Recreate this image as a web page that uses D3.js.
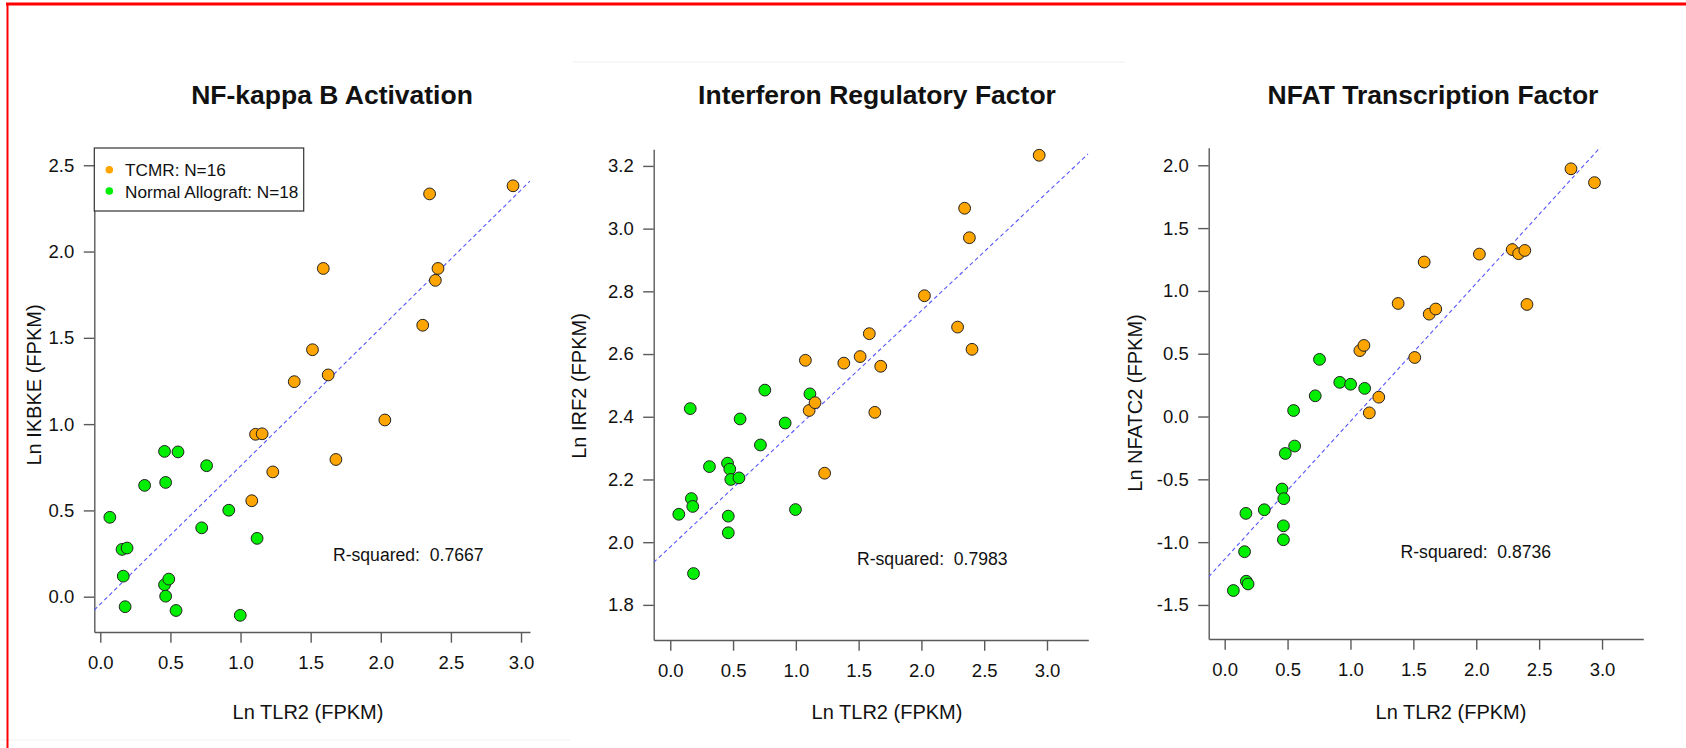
<!DOCTYPE html>
<html><head><meta charset="utf-8">
<script src="https://cdn.jsdelivr.net/npm/d3@7"></script>
<style>
body{margin:0;background:#fff}
svg{display:block}
text{font-family:"Liberation Sans",Arial,Helvetica,sans-serif;fill:#111}
</style>
</head><body>
<svg id="chart" width="1686" height="748"></svg>
<script>
// ---------------- data ----------------
const panelTitles = ["NF-kappa B Activation", "Interferon Regulatory Factor", "NFAT Transcription Factor"];
const yLabels = ["Ln IKBKE (FPKM)", "Ln IRF2 (FPKM)", "Ln NFATC2 (FPKM)"];
const xLabel = "Ln TLR2 (FPKM)";
const legendLabels = ["TCMR: N=16", "Normal Allograft: N=18"];
const rSquared = ["0.7667", "0.7983", "0.8736"];
const xTicks = [0, 0.5, 1.0, 1.5, 2.0, 2.5, 3.0];
const yTicks1 = [0, 0.5, 1.0, 1.5, 2.0, 2.5];
const yTicks2 = [1.8, 2.0, 2.2, 2.4, 2.6, 2.8, 3.0, 3.2];
const yTicks3 = [-1.5, -1.0, -0.5, 0, 0.5, 1.0, 1.5, 2.0];

// Panel 1: IKBKE
const ikbkeTcmrX = [2.943, 2.348, 1.590, 2.408, 2.389, 2.299, 1.513, 1.383, 1.625, 2.029, 1.107, 1.154, 1.680, 1.230, 1.080];
const ikbkeTcmrY = [2.381, 2.334, 1.902, 1.902, 1.833, 1.573, 1.431, 1.246, 1.285, 1.024, 0.941, 0.944, 0.795, 0.723, 0.556];
const ikbkeNormX = [0.068, 0.155, 0.191, 0.164, 0.177, 0.316, 0.458, 0.554, 0.466, 0.758, 0.916, 0.723, 1.118, 0.458, 0.488, 0.466, 0.540, 0.998];
const ikbkeNormY = [0.460, 0.274, 0.282, 0.119, -0.058, 0.645, 0.842, 0.839, 0.662, 0.759, 0.501, 0.399, 0.338, 0.069, 0.102, 0.003, -0.080, -0.108];
// Panel 2: IRF2
const irf2TcmrX = [2.938, 2.344, 2.382, 2.024, 2.288, 2.403, 1.585, 1.512, 1.382, 1.676, 1.076, 1.106, 1.153, 1.629, 1.229];
const irf2TcmrY = [3.234, 3.065, 2.971, 2.786, 2.686, 2.615, 2.665, 2.592, 2.571, 2.561, 2.580, 2.420, 2.445, 2.414, 2.220];
const irf2NormX = [0.159, 0.753, 0.556, 1.112, 0.915, 0.718, 0.312, 0.456, 0.474, 0.482, 0.547, 0.168, 0.179, 0.068, 0.462, 0.997, 0.462, 0.185];
const irf2NormY = [2.426, 2.485, 2.393, 2.473, 2.380, 2.310, 2.241, 2.252, 2.233, 2.200, 2.205, 2.139, 2.114, 2.089, 2.083, 2.104, 2.030, 1.900];
// Panel 3: NFATC2
const nfatTcmrX = [2.753, 2.940, 1.586, 2.025, 2.286, 2.337, 2.386, 1.379, 1.626, 1.678, 2.403, 1.075, 1.107, 1.511, 1.225, 1.150];
const nfatTcmrY = [1.972, 1.862, 1.230, 1.293, 1.329, 1.296, 1.322, 0.900, 0.815, 0.856, 0.892, 0.525, 0.566, 0.470, 0.154, 0.029];
const nfatNormX = [0.754, 0.915, 1.001, 1.113, 0.720, 0.548, 0.556, 0.482, 0.456, 0.470, 0.315, 0.169, 0.467, 0.467, 0.158, 0.172, 0.186, 0.069];
const nfatNormY = [0.455, 0.272, 0.257, 0.224, 0.165, 0.048, -0.235, -0.294, -0.577, -0.654, -0.742, -0.771, -0.870, -0.981, -1.076, -1.311, -1.333, -1.385];

// regression lines (intercept, slope)
const fitIntercept = [-0.043, 1.985, -1.136];
const fitSlope = [0.800, 0.3766, 1.098];

// ---------------- layout ----------------
const ORANGE = "#FFA500", GREEN = "#00EE00", AXIS = "#5a5a5a";
const panels = [
  {left: 94.3, right: 530, top: 148, bottom: 632, xDom: [-0.0428, 3.064], yDom: [-0.2046, 2.600], yTicks: yTicks1,
   tcmr: [ikbkeTcmrX, ikbkeTcmrY], norm: [ikbkeNormX, ikbkeNormY], titleX: 332, xLabX: 308, yLabX: 41, yLabY: 385,
   rsq: [1.659, 0.207], legend: true},
  {left: 653.7, right: 1088.3, top: 149.3, bottom: 640, xDom: [-0.132, 3.329], yDom: [1.688, 3.253], yTicks: yTicks2,
   tcmr: [irf2TcmrX, irf2TcmrY], norm: [irf2NormX, irf2NormY], titleX: 877, xLabX: 887, yLabX: 585.5, yLabY: 386,
   rsq: [1.487, 1.928], legend: false},
  {left: 1208.7, right: 1643.3, top: 147.7, bottom: 639, xDom: [-0.127, 3.328], yDom: [-1.771, 2.140], yTicks: yTicks3,
   tcmr: [nfatTcmrX, nfatTcmrY], norm: [nfatNormX, nfatNormY], titleX: 1433, xLabX: 1451, yLabX: 1142, yLabY: 403,
   rsq: [1.398, -1.130], legend: false}
];

const svg = d3.select("#chart");
svg.append("rect").attr("width", 1686).attr("height", 748).attr("fill", "#fff");

// faint separator lines & red frame
svg.append("line").attr("x1", 573).attr("x2", 1125).attr("y1", 62).attr("y2", 62).attr("stroke", "#eeeeee").attr("stroke-width", 1);
svg.append("line").attr("x1", 0).attr("x2", 570).attr("y1", 740).attr("y2", 740).attr("stroke", "#f0f0f0").attr("stroke-width", 1);
svg.append("line").attr("x1", 6).attr("x2", 1686).attr("y1", 4).attr("y2", 4).attr("stroke", "#ff0000").attr("stroke-width", 3);
svg.append("line").attr("x1", 7.5).attr("x2", 7.5).attr("y1", 3).attr("y2", 748).attr("stroke", "#ff0000").attr("stroke-width", 2);

const fmt = d => d.toFixed(1);

panels.forEach((p, i) => {
  const x = d3.scaleLinear().domain(p.xDom).range([p.left, p.right]);
  const y = d3.scaleLinear().domain(p.yDom).range([p.bottom, p.top]);
  const g = svg.append("g");

  // title
  g.append("text").attr("x", p.titleX).attr("y", 104).attr("text-anchor", "middle")
    .style("font-size", "26.5px").style("font-weight", "bold").text(panelTitles[i]);

  // axes
  const xa = g.append("g").attr("transform", `translate(0,${p.bottom})`)
    .call(d3.axisBottom(x).tickValues(xTicks).tickFormat(fmt).tickSize(10.7).tickSizeOuter(0).tickPadding(13.5));
  const ya = g.append("g").attr("transform", `translate(${p.left},0)`)
    .call(d3.axisLeft(y).tickValues(p.yTicks).tickFormat(fmt).tickSize(10.5).tickSizeOuter(0).tickPadding(9.5));
  [xa, ya].forEach(a => {
    a.select(".domain").attr("stroke", AXIS).attr("stroke-width", 1.4);
    a.selectAll(".tick line").attr("stroke", AXIS).attr("stroke-width", 1.4);
    a.selectAll(".tick text").attr("fill", "#111").style("font-size", "18.5px")
      .style("font-family", '"Liberation Sans",Arial,sans-serif');
  });

  // axis labels
  g.append("text").attr("x", p.xLabX).attr("y", 719).attr("text-anchor", "middle")
    .style("font-size", "20px").text(xLabel);
  g.append("text").attr("transform", `translate(${p.yLabX},${p.yLabY}) rotate(-90)`).attr("text-anchor", "middle")
    .style("font-size", "20px").text(yLabels[i]);

  // clip
  const cid = "clip" + i;
  svg.append("clipPath").attr("id", cid).append("rect")
    .attr("x", p.left).attr("y", p.top).attr("width", p.right - p.left).attr("height", p.bottom - p.top);

  // regression line
  const x0 = p.xDom[0], x1 = p.xDom[1];
  g.append("line").attr("clip-path", `url(#${cid})`)
    .attr("x1", x(x0)).attr("y1", y(fitIntercept[i] + fitSlope[i] * x0))
    .attr("x2", x(x1)).attr("y2", y(fitIntercept[i] + fitSlope[i] * x1))
    .attr("stroke", "#5555ff").attr("stroke-width", 1.1).attr("stroke-dasharray", "4,3");

  // points
  const normPts = p.norm[0].map((v, k) => ({x: v, y: p.norm[1][k]}));
  const tcmrPts = p.tcmr[0].map((v, k) => ({x: v, y: p.tcmr[1][k]}));
  g.append("g").selectAll("circle").data(normPts).join("circle")
    .attr("cx", d => x(d.x)).attr("cy", d => y(d.y)).attr("r", 5.9)
    .attr("fill", GREEN).attr("stroke", "#222").attr("stroke-width", 1);
  g.append("g").selectAll("circle").data(tcmrPts).join("circle")
    .attr("cx", d => x(d.x)).attr("cy", d => y(d.y)).attr("r", 5.9)
    .attr("fill", ORANGE).attr("stroke", "#222").attr("stroke-width", 1);

  // R-squared annotation
  g.append("text").attr("x", x(p.rsq[0])).attr("y", y(p.rsq[1]))
    .style("font-size", "17.6px").style("white-space", "pre")
    .text("R-squared:  " + rSquared[i]);

  // legend
  if (p.legend) {
    const lg = g.append("g");
    lg.append("rect").attr("x", p.left).attr("y", p.top).attr("width", 209.4).attr("height", 63)
      .attr("fill", "#fff").attr("stroke", "#333").attr("stroke-width", 1.2);
    [ORANGE, GREEN].forEach((c, k) => {
      lg.append("circle").attr("cx", p.left + 15).attr("cy", p.top + 21.7 + k * 21.3).attr("r", 3.8).attr("fill", c);
      lg.append("text").attr("x", p.left + 30.7).attr("y", p.top + 28 + k * 21.5)
        .style("font-size", "17.2px").text(legendLabels[k]);
    });
  }
});
</script>
</body></html>
